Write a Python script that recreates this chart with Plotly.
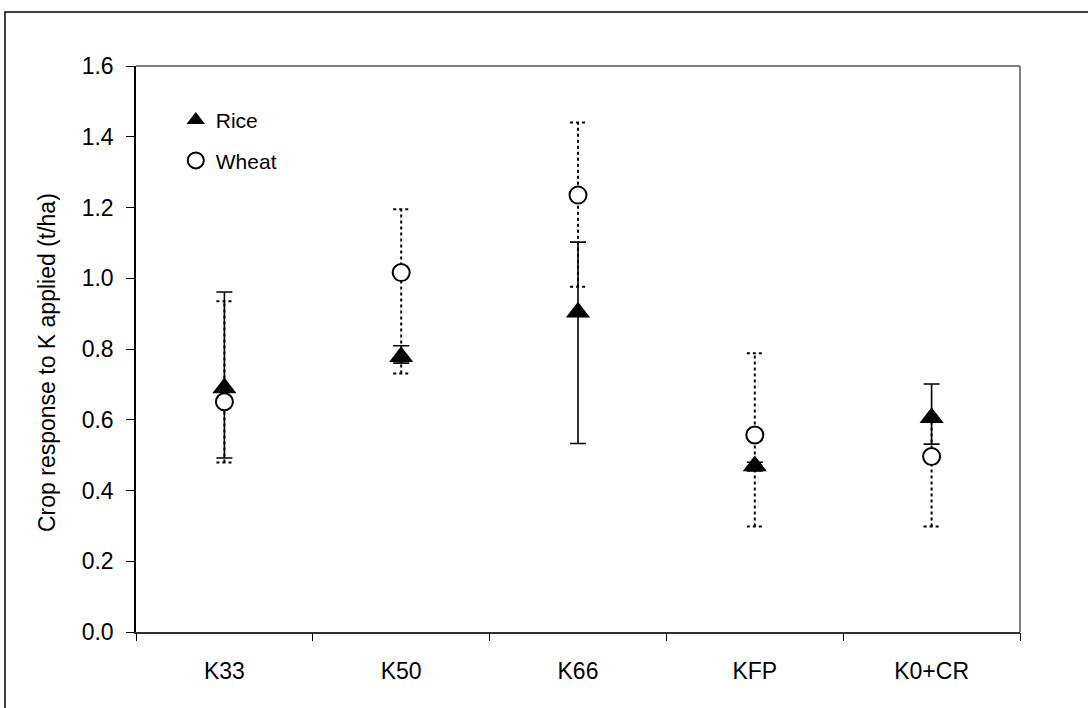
import plotly.graph_objects as go

# Treatments and crop response (t/ha) with error-bar limits
categories = ["K33", "K50", "K66", "KFP", "K0+CR"]

rice_mean = [0.69, 0.778, 0.904, 0.469, 0.606]
rice_upper = [0.961, 0.809, 1.102, 0.48, 0.701]
rice_lower = [0.492, 0.76, 0.533, 0.455, 0.531]

wheat_mean = [0.651, 1.016, 1.235, 0.557, 0.496]
wheat_upper = [0.935, 1.195, 1.44, 0.788, 0.60]
wheat_lower = [0.479, 0.731, 0.976, 0.298, 0.298]

y_ticks = [0.0, 0.2, 0.4, 0.6, 0.8, 1.0, 1.2, 1.4, 1.6]

FONT = "Liberation Sans, Arial, sans-serif"
FS = 23
CAP = 0.045  # half width of dotted whisker caps, in category units

xpos = list(range(len(categories)))
bounds = [i - 0.5 for i in xpos] + [xpos[-1] + 0.5]

fig = go.Figure()

# Wheat dotted whiskers (vertical segments + caps)
wx, wy = [], []
for i, lo, hi in zip(xpos, wheat_lower, wheat_upper):
    wx += [i, i, None]
    wy += [lo, hi, None]
    wx += [i - CAP, i + CAP, None, i - CAP, i + CAP, None]
    wy += [hi, hi, None, lo, lo, None]
fig.add_trace(go.Scatter(
    x=wx, y=wy, mode="lines", showlegend=False, hoverinfo="skip",
    line=dict(color="black", width=2, dash="3px,3px"),
))

# Rice: filled triangles with solid error bars
fig.add_trace(go.Scatter(
    x=xpos, y=rice_mean, mode="markers", name="Rice",
    legendgroup="rice",
    marker=dict(symbol="triangle-up", size=21, color="black",
                line=dict(width=0)),
    error_y=dict(
        type="data", symmetric=False,
        array=[u - m for u, m in zip(rice_upper, rice_mean)],
        arrayminus=[m - l for m, l in zip(rice_mean, rice_lower)],
        color="black", thickness=1.6, width=8,
    ),
))

# Wheat: open circles
fig.add_trace(go.Scatter(
    x=xpos, y=wheat_mean, mode="markers", name="Wheat",
    legendgroup="wheat",
    marker=dict(symbol="circle", size=17, color="white",
                line=dict(color="black", width=2)),
))

# Plot-area border (top/right) and outer chart frame
shapes = [
    dict(type="line", xref="paper", yref="paper", x0=0, x1=1, y0=1, y1=1,
         line=dict(color="#808080", width=2)),
    dict(type="line", xref="paper", yref="paper", x0=1, x1=1, y0=0, y1=1,
         line=dict(color="#808080", width=2)),
    dict(type="rect", xref="paper", yref="paper",
         x0=-0.1482, x1=1.2, y0=-0.3, y1=1.0954,
         line=dict(color="black", width=1.5), layer="below"),
]

# Vertical axis title
annotations = [
    dict(text="Crop response to K applied (t/ha)", textangle=-90,
         xref="paper", yref="paper", x=-0.1007, y=0.477,
         xanchor="center", yanchor="middle", showarrow=False,
         font=dict(family=FONT, size=FS, color="black")),
]

fig.update_layout(
    width=1088, height=708,
    margin=dict(l=136, r=68, t=66, b=76),
    paper_bgcolor="white", plot_bgcolor="white",
    font=dict(family=FONT, size=FS, color="black"),
    shapes=shapes,
    annotations=annotations,
    showlegend=True,
    legend=dict(
        x=0.045, y=0.94, xanchor="left", yanchor="top",
        bgcolor="rgba(0,0,0,0)", borderwidth=0,
        font=dict(family=FONT, size=21, color="black"),
        traceorder="grouped", tracegroupgap=10,
        itemwidth=30,
    ),
    xaxis=dict(
        range=[-0.5, len(categories) - 0.5],
        tickmode="array", tickvals=xpos, ticktext=categories,
        ticks="", showgrid=False, zeroline=False,
        showline=True, linecolor="#303030", linewidth=2,
        ticklabelstandoff=17,
        tickfont=dict(family=FONT, size=FS, color="black"),
        fixedrange=True,
    ),
    xaxis2=dict(
        overlaying="x", anchor="y", side="bottom",
        range=[-0.5, len(categories) - 0.5],
        tickmode="array", tickvals=bounds, showticklabels=False,
        ticks="outside", ticklen=8, tickwidth=1.2, tickcolor="black",
        showgrid=False, zeroline=False, showline=False,
    ),
    yaxis=dict(
        range=[0, 1.6],
        tickmode="array", tickvals=y_ticks,
        ticktext=[f"{v:.1f}" for v in y_ticks],
        ticks="outside", ticklen=8, tickwidth=1.2, tickcolor="black",
        ticklabelstandoff=8,
        showgrid=False, zeroline=False,
        showline=True, linecolor="black", linewidth=1.5,
        tickfont=dict(family=FONT, size=FS, color="black"),
    ),
)

# empty trace so the boundary-tick axis is rendered
fig.add_trace(go.Scatter(x=[None], y=[None], xaxis="x2", showlegend=False,
                         hoverinfo="skip"))

fig.write_html("out.html")
